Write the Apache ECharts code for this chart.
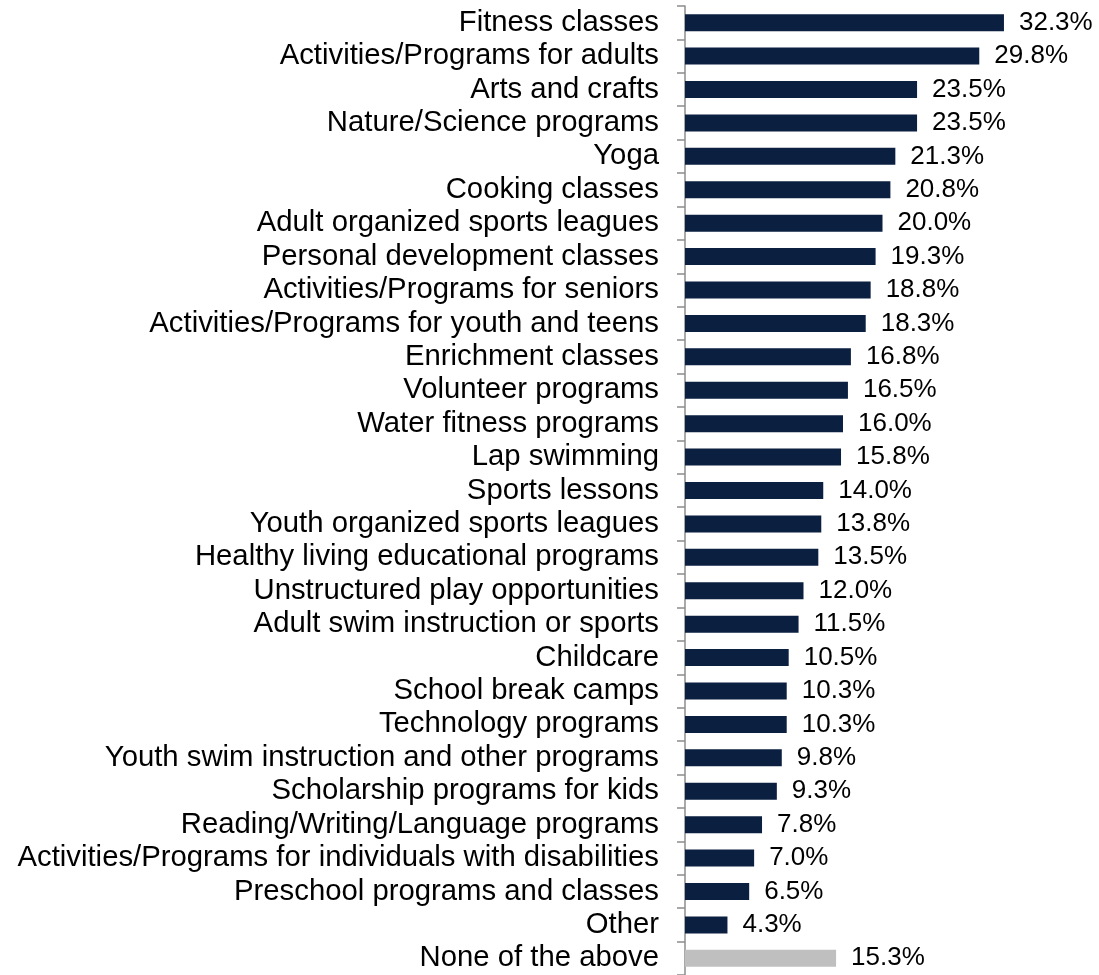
<!DOCTYPE html>
<html>
<head>
<meta charset="utf-8">
<script src="https://cdn.jsdelivr.net/npm/echarts@6/dist/echarts.min.js"></script>
<style>html,body{margin:0;padding:0;background:#fff;}#c{width:1099px;height:975px;}</style>
</head>
<body>
<div id="c"></div>
<script>
const categories = [
  "Fitness classes",
  "Activities/Programs for adults",
  "Arts and crafts",
  "Nature/Science programs",
  "Yoga",
  "Cooking classes",
  "Adult organized sports leagues",
  "Personal development classes",
  "Activities/Programs for seniors",
  "Activities/Programs for youth and teens",
  "Enrichment classes",
  "Volunteer programs",
  "Water fitness programs",
  "Lap swimming",
  "Sports lessons",
  "Youth organized sports leagues",
  "Healthy living educational programs",
  "Unstructured play opportunities",
  "Adult swim instruction or sports",
  "Childcare",
  "School break camps",
  "Technology programs",
  "Youth swim instruction and other programs",
  "Scholarship programs for kids",
  "Reading/Writing/Language programs",
  "Activities/Programs for individuals with disabilities",
  "Preschool programs and classes",
  "Other",
  "None of the above"
];
const values = [32.3, 29.8, 23.5, 23.5, 21.3, 20.8, 20.0, 19.3, 18.8, 18.3, 16.8, 16.5, 16.0, 15.8, 14.0, 13.8, 13.5, 12.0, 11.5, 10.5, 10.3, 10.3, 9.8, 9.3, 7.8, 7.0, 6.5, 4.3, 15.3];
const highlightCategory = "None of the above";

const navy = '#0B1F40';
const grey = '#BFBFBF';

const chart = echarts.init(document.getElementById('c'));
chart.setOption({
  animation: false,
  backgroundColor: '#fff',
  grid: { left: 685, top: 6, width: 395, height: 974, containLabel: false },
  xAxis: { type: 'value', min: 0, max: 40, show: false },
  yAxis: {
    type: 'category',
    inverse: true,
    data: categories,
    axisLine: { show: true, lineStyle: { color: '#8C8C8C', width: 1.5 } },
    axisTick: { show: true, length: 8, interval: 0, lineStyle: { color: '#8C8C8C', width: 1.5 } },
    axisLabel: { interval: 0, color: '#000', fontFamily: 'Liberation Sans, Arial, sans-serif', fontSize: 29.3, margin: 26 }
  },
  series: [{
    type: 'bar',
    barWidth: 17,
    data: values.map((v, i) => ({ value: v, itemStyle: { color: categories[i] === highlightCategory ? grey : navy } })),
    label: {
      show: true, position: 'right', distance: 15,
      formatter: p => p.value.toFixed(1) + '%',
      color: '#000', fontFamily: 'Liberation Sans, Arial, sans-serif', fontSize: 26
    }
  }]
});
</script>
</body>
</html>
